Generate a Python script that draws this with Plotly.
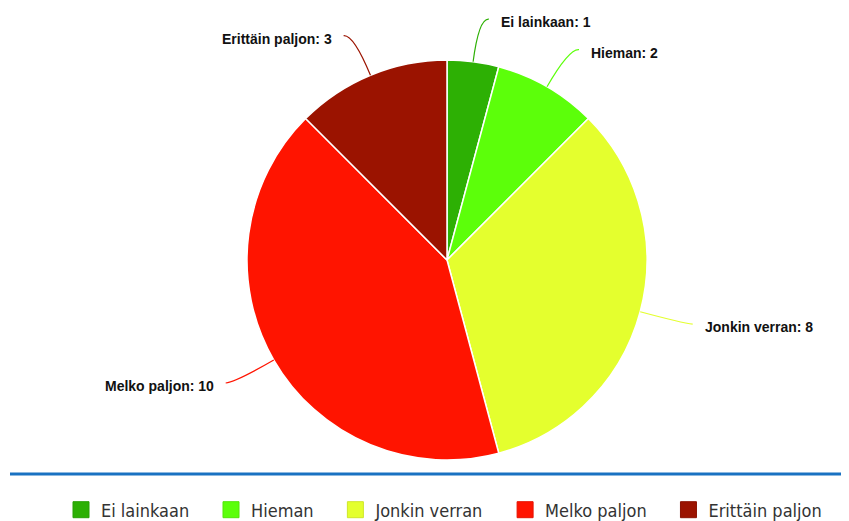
import math
import plotly.graph_objects as go

categories = ["Ei lainkaan", "Hieman", "Jonkin verran", "Melko paljon", "Erittäin paljon"]
values = [1, 2, 8, 10, 3]
colors = ["#2db004", "#5cff0a", "#e4ff2e", "#ff1400", "#9b1300"]
line_colors = ["#28a004", "#52e609", "#cfe629", "#e61200", "#8a1100"]

# the page body has an 8px margin, so the figure is 8px smaller and all
# screen positions below are shifted by OFF
OFF = 8
W, H = 849 - OFF, 521 - OFF
CX, CY, R = 447 - OFF, 260 - OFF, 200
RL = 244      # label radius
HOFF = 10     # horizontal connector tail
TGAP = 10     # gap between connector and text
TDY = 3       # text baseline nudge

fig = go.Figure()

fig.add_trace(go.Pie(
    labels=categories,
    values=values,
    sort=False,
    direction="clockwise",
    rotation=0,
    textinfo="none",
    hoverinfo="skip",
    marker=dict(colors=colors, line=dict(color="white", width=1.5)),
    domain=dict(x=[(CX - R) / W, (CX + R) / W], y=[1 - (CY + R) / H, 1 - (CY - R) / H]),
    showlegend=False,
))

# dummy traces for the legend (larger square markers)
PAD = "\u00a0\u00a0\u2009\u2009"
for cat, col, lc in zip(categories, colors, line_colors):
    fig.add_trace(go.Scatter(
        x=[None], y=[None], mode="markers", name=cat + PAD,
        marker=dict(symbol="square", size=16, color=col, line=dict(color=lc, width=1)),
        hoverinfo="skip",
    ))

total = sum(values)
cum = 0
shapes = []
annotations = []
for cat, v, col in zip(categories, values, colors):
    mid = (cum + v / 2) / total * 2 * math.pi
    cum += v
    s = 1 if math.sin(mid) >= 0 else -1
    x0, y0 = CX + R * math.sin(mid), CY - R * math.cos(mid)
    ax, ay = CX + RL * math.sin(mid), CY - RL * math.cos(mid)
    ex, ey = ax + HOFF * s, ay + 1
    shapes.append(dict(
        type="path", xref="x", yref="y",
        path=f"M {x0:.2f},{y0:.2f} Q {ax:.2f},{ay:.2f} {ex:.2f},{ey:.2f}",
        line=dict(color=col, width=1.2),
    ))
    annotations.append(dict(
        x=ex + TGAP * s, y=ey + TDY, xref="x", yref="y",
        text=f"<b>{cat}: {v}</b>", showarrow=False,
        xanchor="left" if s > 0 else "right", yanchor="middle",
        font=dict(family="Liberation Sans, Arial, sans-serif", size=14, color="#111111"),
    ))

# blue separator line
shapes.append(dict(type="line", xref="x", yref="y", x0=10 - OFF, x1=W, y0=474 - OFF, y1=474 - OFF,
                   line=dict(color="#1a72c2", width=3)))

fig.update_layout(
    width=W, height=H,
    margin=dict(l=0, r=0, t=0, b=0, autoexpand=False),
    paper_bgcolor="white", plot_bgcolor="rgba(0,0,0,0)",
    xaxis=dict(range=[0, W], visible=False, fixedrange=True),
    yaxis=dict(range=[H, 0], visible=False, fixedrange=True),
    shapes=shapes,
    annotations=annotations,
    showlegend=True,
    legend=dict(
        orientation="h", x=(73 - OFF - 12) / W, xanchor="left", y=(H - (510 - OFF)) / H, yanchor="middle",
        font=dict(family="DejaVu Sans Condensed, DejaVu Sans, sans-serif", size=18, color="#333333"),
        itemclick=False, itemdoubleclick=False,
    ),
    hovermode=False,
)

fig.write_html("out.html", config={"displayModeBar": False})
